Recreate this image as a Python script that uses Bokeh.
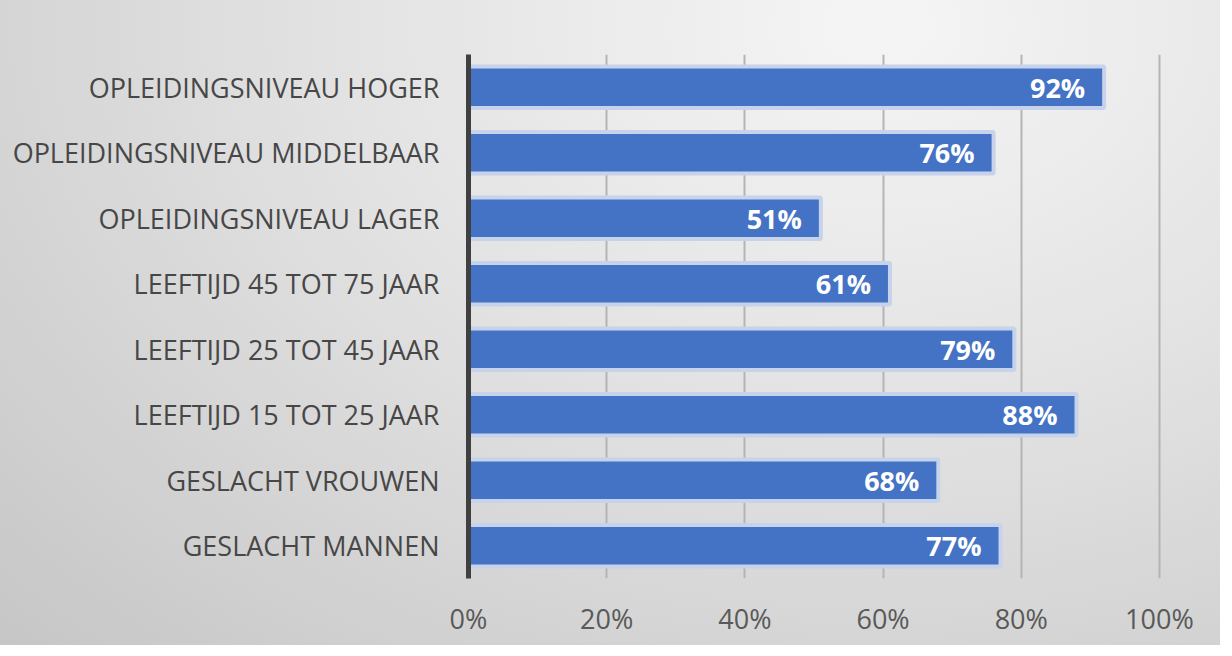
from bokeh.plotting import figure
from bokeh.models import ColumnDataSource, FixedTicker, NumeralTickFormatter
from bokeh.core.properties import value
from bokeh.embed import file_html
from bokeh.resources import INLINE

# data (top to bottom as shown)
categories = [
    "OPLEIDINGSNIVEAU HOGER",
    "OPLEIDINGSNIVEAU MIDDELBAAR",
    "OPLEIDINGSNIVEAU LAGER",
    "LEEFTIJD 45 TOT 75 JAAR",
    "LEEFTIJD 25 TOT 45 JAAR",
    "LEEFTIJD 15 TOT 25 JAAR",
    "GESLACHT VROUWEN",
    "GESLACHT MANNEN",
]
shares = [0.92, 0.76, 0.51, 0.61, 0.79, 0.88, 0.68, 0.77]
x_ticks = [0, 0.2, 0.4, 0.6, 0.8, 1.0]

labels = [f"{round(v * 100)}%" for v in shares]
src = ColumnDataSource(dict(cat=categories, val=shares, lab=labels))

FONT = "Open Sans"

p = figure(
    y_range=list(reversed(categories)),
    x_range=(0, 1.003),
    width=1220, height=645,
    output_backend="svg", toolbar_location=None,
    min_border_left=468, min_border_right=59,
    min_border_top=54, min_border_bottom=67,
)
p.border_fill_color = None
p.background_fill_color = None
p.outline_line_color = None
p.styles = {"background": "radial-gradient(ellipse farthest-corner at 72% 4%, #f5f5f5 0%, #e2e2e2 45%, #c6c6c6 100%)"}

p.hbar(y="cat", right="val", left=0, height=0.635, source=src,
       fill_color="#4472C4", line_color="#c7d3ea", line_width=4)

p.text(x="val", y="cat", text="lab", source=src, x_offset=-19,
       text_align="right", text_baseline="middle",
       text_color="white", text_font=value(FONT), text_font_size="27px",
       text_font_style="bold")

# x axis
p.xaxis.ticker = FixedTicker(ticks=x_ticks)
p.xaxis.formatter = NumeralTickFormatter(format="0%")
p.xaxis.axis_line_color = None
p.xaxis.major_tick_line_color = None
p.xaxis.minor_tick_line_color = None
p.xaxis.major_label_standoff = 15
p.xaxis.major_label_text_font = FONT
p.xaxis.major_label_text_font_size = "27px"
p.xaxis.major_label_text_color = "#595959"

# y axis
p.yaxis.axis_line_color = "#404040"
p.yaxis.axis_line_width = 5
p.yaxis.major_tick_line_color = None
p.yaxis.minor_tick_line_color = None
p.yaxis.major_label_standoff = 23
p.yaxis.major_label_text_font = FONT
p.yaxis.major_label_text_font_size = "27px"
p.yaxis.major_label_text_color = "#474747"

p.xgrid.ticker = FixedTicker(ticks=x_ticks[1:])
p.xgrid.grid_line_color = "#b4b4b4"
p.xgrid.grid_line_width = 2
p.ygrid.grid_line_color = None

open("out.html", "w").write(file_html(p, INLINE))
